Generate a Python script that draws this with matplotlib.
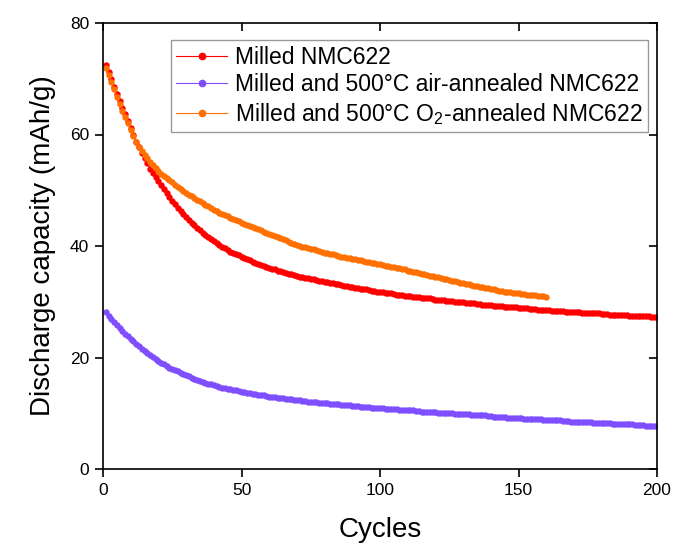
import matplotlib
matplotlib.use("Agg")
import matplotlib.pyplot as plt
import matplotlib.lines as mlines

plt.rcParams['font.family'] = ['Liberation Sans', 'DejaVu Sans']
plt.rcParams['mathtext.fontset'] = 'custom'
plt.rcParams['mathtext.rm'] = 'Liberation Sans'
plt.rcParams['mathtext.it'] = 'Liberation Sans:italic'

# ---------------- data ----------------
milled = [
    72.5, 71.2, 69.9, 68.6, 67.3, 66.0, 64.8, 63.6, 62.4, 61.2,
    59.9, 58.7, 57.7, 56.7, 55.7, 54.8, 53.9, 53.1, 52.3, 51.6,
    50.9, 50.2, 49.5, 48.8, 48.1, 47.5, 46.9, 46.3, 45.7, 45.2,
    44.7, 44.2, 43.7, 43.2, 42.8, 42.4, 42.0, 41.6, 41.2, 40.9,
    40.5, 40.2, 39.9, 39.6, 39.3, 39.0, 38.8, 38.5, 38.3, 38.0,
    37.8, 37.6, 37.4, 37.2, 37.0, 36.8, 36.6, 36.4, 36.3, 36.1,
    35.9, 35.8, 35.6, 35.5, 35.3, 35.2, 35.0, 34.9, 34.8, 34.6,
    34.5, 34.4, 34.3, 34.2, 34.1, 34.0, 33.9, 33.8, 33.7, 33.6,
    33.5, 33.4, 33.3, 33.2, 33.1, 33.0, 32.9, 32.8, 32.7, 32.6,
    32.5, 32.4, 32.3, 32.2, 32.2, 32.1, 32.0, 31.9, 31.8, 31.8,
    31.7, 31.6, 31.5, 31.5, 31.4, 31.3, 31.3, 31.2, 31.1, 31.1,
    31.0, 30.9, 30.9, 30.8, 30.7, 30.7, 30.6, 30.6, 30.5, 30.4,
    30.4, 30.3, 30.3, 30.2, 30.2, 30.1, 30.0, 30.0, 29.9, 29.9,
    29.8, 29.8, 29.7, 29.7, 29.6, 29.6, 29.5, 29.5, 29.4, 29.4,
    29.3, 29.3, 29.2, 29.2, 29.1, 29.1, 29.0, 29.0, 29.0, 28.9,
    28.9, 28.8, 28.8, 28.7, 28.7, 28.7, 28.6, 28.6, 28.5, 28.5,
    28.5, 28.4, 28.4, 28.3, 28.3, 28.3, 28.2, 28.2, 28.2, 28.1,
    28.1, 28.1, 28.0, 28.0, 28.0, 27.9, 27.9, 27.9, 27.9, 27.8,
    27.8, 27.8, 27.7, 27.7, 27.7, 27.7, 27.6, 27.6, 27.6, 27.5,
    27.5, 27.5, 27.5, 27.4, 27.4, 27.4, 27.4, 27.3, 27.3, 27.3,
]

air_annealed = [
    28.1, 27.5, 26.9, 26.4, 25.8, 25.3, 24.8, 24.3, 23.8, 23.3,
    22.9, 22.5, 22.0, 21.6, 21.2, 20.8, 20.4, 20.1, 19.7, 19.4,
    19.1, 18.8, 18.5, 18.2, 18.0, 17.7, 17.5, 17.2, 17.0, 16.8,
    16.6, 16.4, 16.2, 16.0, 15.8, 15.6, 15.5, 15.3, 15.2, 15.0,
    14.9, 14.7, 14.6, 14.5, 14.4, 14.3, 14.2, 14.1, 14.0, 13.9,
    13.8, 13.7, 13.6, 13.5, 13.4, 13.3, 13.3, 13.2, 13.1, 13.0,
    12.9, 12.9, 12.8, 12.7, 12.7, 12.6, 12.5, 12.5, 12.4, 12.3,
    12.3, 12.2, 12.2, 12.1, 12.1, 12.0, 12.0, 11.9, 11.9, 11.8,
    11.8, 11.7, 11.7, 11.6, 11.6, 11.5, 11.5, 11.4, 11.4, 11.3,
    11.3, 11.3, 11.2, 11.2, 11.1, 11.1, 11.0, 11.0, 11.0, 10.9,
    10.9, 10.8, 10.8, 10.8, 10.7, 10.7, 10.6, 10.6, 10.6, 10.5,
    10.5, 10.5, 10.4, 10.4, 10.3, 10.3, 10.3, 10.2, 10.2, 10.2,
    10.1, 10.1, 10.1, 10.0, 10.0, 10.0, 9.9, 9.9, 9.9, 9.8,
    9.8, 9.8, 9.7, 9.7, 9.7, 9.6, 9.6, 9.6, 9.5, 9.5,
    9.4, 9.4, 9.3, 9.3, 9.3, 9.2, 9.2, 9.2, 9.1, 9.1,
    9.1, 9.0, 9.0, 9.0, 8.9, 8.9, 8.9, 8.9, 8.8, 8.8,
    8.8, 8.7, 8.7, 8.7, 8.7, 8.6, 8.6, 8.6, 8.5, 8.5,
    8.5, 8.5, 8.4, 8.4, 8.4, 8.4, 8.3, 8.3, 8.3, 8.2,
    8.2, 8.2, 8.2, 8.1, 8.1, 8.1, 8.1, 8.0, 8.0, 8.0,
    8.0, 7.9, 7.9, 7.9, 7.9, 7.8, 7.8, 7.8, 7.8, 7.7,
]

o2_annealed = [
    72.0, 70.7, 69.4, 68.1, 66.8, 65.5, 64.3, 63.1, 62.0, 60.8,
    59.7, 58.7, 57.8, 57.0, 56.3, 55.7, 55.1, 54.6, 54.0, 53.5,
    53.0, 52.6, 52.2, 51.8, 51.4, 51.0, 50.6, 50.2, 49.9, 49.5,
    49.2, 48.9, 48.6, 48.3, 48.0, 47.7, 47.4, 47.1, 46.8, 46.5,
    46.3, 46.0, 45.8, 45.5, 45.3, 45.0, 44.8, 44.6, 44.4, 44.2,
    44.0, 43.8, 43.6, 43.4, 43.2, 43.0, 42.8, 42.6, 42.4, 42.2,
    42.0, 41.8, 41.6, 41.4, 41.2, 41.0, 40.8, 40.6, 40.4, 40.2,
    40.0, 39.9, 39.8, 39.6, 39.5, 39.4, 39.2, 39.1, 39.0, 38.8,
    38.7, 38.6, 38.5, 38.4, 38.2, 38.1, 38.0, 37.9, 37.8, 37.7,
    37.6, 37.5, 37.4, 37.3, 37.2, 37.1, 37.0, 36.9, 36.8, 36.7,
    36.6, 36.5, 36.4, 36.3, 36.2, 36.1, 36.0, 35.9, 35.8, 35.6,
    35.5, 35.4, 35.3, 35.2, 35.0, 34.9, 34.8, 34.7, 34.6, 34.5,
    34.4, 34.2, 34.1, 34.0, 33.9, 33.8, 33.7, 33.5, 33.4, 33.3,
    33.2, 33.1, 33.0, 32.9, 32.8, 32.7, 32.6, 32.5, 32.4, 32.3,
    32.2, 32.1, 32.0, 31.9, 31.8, 31.8, 31.7, 31.6, 31.5, 31.5,
    31.4, 31.4, 31.3, 31.3, 31.2, 31.2, 31.1, 31.1, 31.0, 30.9,
]

labels = ["Milled NMC622",
          "Milled and 500°C air-annealed NMC622",
          "Milled and 500°C O$_2$-annealed NMC622"]
colors = ["#ff0000", "#7f4fff", "#ff7000"]
xticks = [0, 50, 100, 150, 200]
yticks = [0, 20, 40, 60, 80]

cyc_m = list(range(1, len(milled) + 1))
cyc_a = list(range(1, len(air_annealed) + 1))
cyc_o = list(range(1, len(o2_annealed) + 1))

# ---------------- figure ----------------
fig = plt.figure(figsize=(6.75, 5.43), dpi=100)
ax = fig.add_axes([103/675, 1 - 469/543, (657-103)/675, (469-23)/543])

style = dict(marker='o', markersize=4.6, markeredgewidth=0, linewidth=0.8)
ax.plot(cyc_m, milled, color=colors[0], label=labels[0], **style)
ax.plot(cyc_a, air_annealed, color=colors[1], label=labels[1], **style)
ax.plot(cyc_o, o2_annealed, color=colors[2], label=labels[2], **style)

ax.set_xlim(0, 200)
ax.set_ylim(0, 80)
ax.set_xticks(xticks)
ax.set_yticks(yticks)

for s in ax.spines.values():
    s.set_linewidth(1.2)
    s.set_color('black')

ax.tick_params(axis='both', which='major', direction='out', length=6,
               width=1.2, labelsize=12.5, pad=4, top=True, right=True,
               labeltop=False, labelright=False)
# make the mirrored top/right ticks point inward
for t in ax.yaxis.get_major_ticks():
    t.tick2line.set_marker(mlines.TICKLEFT)
for t in ax.xaxis.get_major_ticks():
    t.tick2line.set_marker(mlines.TICKDOWN)

ax.set_xlabel("Cycles", fontsize=20, labelpad=14)
ax.set_ylabel("Discharge capacity (mAh/g)", fontsize=20, labelpad=10)

leg = ax.legend(loc='upper right', bbox_to_anchor=(0.984, 0.962),
                borderaxespad=0, fontsize=16.5, frameon=True, fancybox=False,
                edgecolor='#808080', handlelength=2.2, handletextpad=0.35,
                labelspacing=0.2, borderpad=0.25, markerscale=1.2)
leg.get_frame().set_linewidth(1.0)

fig.savefig("out.png", dpi=100, facecolor='white')
